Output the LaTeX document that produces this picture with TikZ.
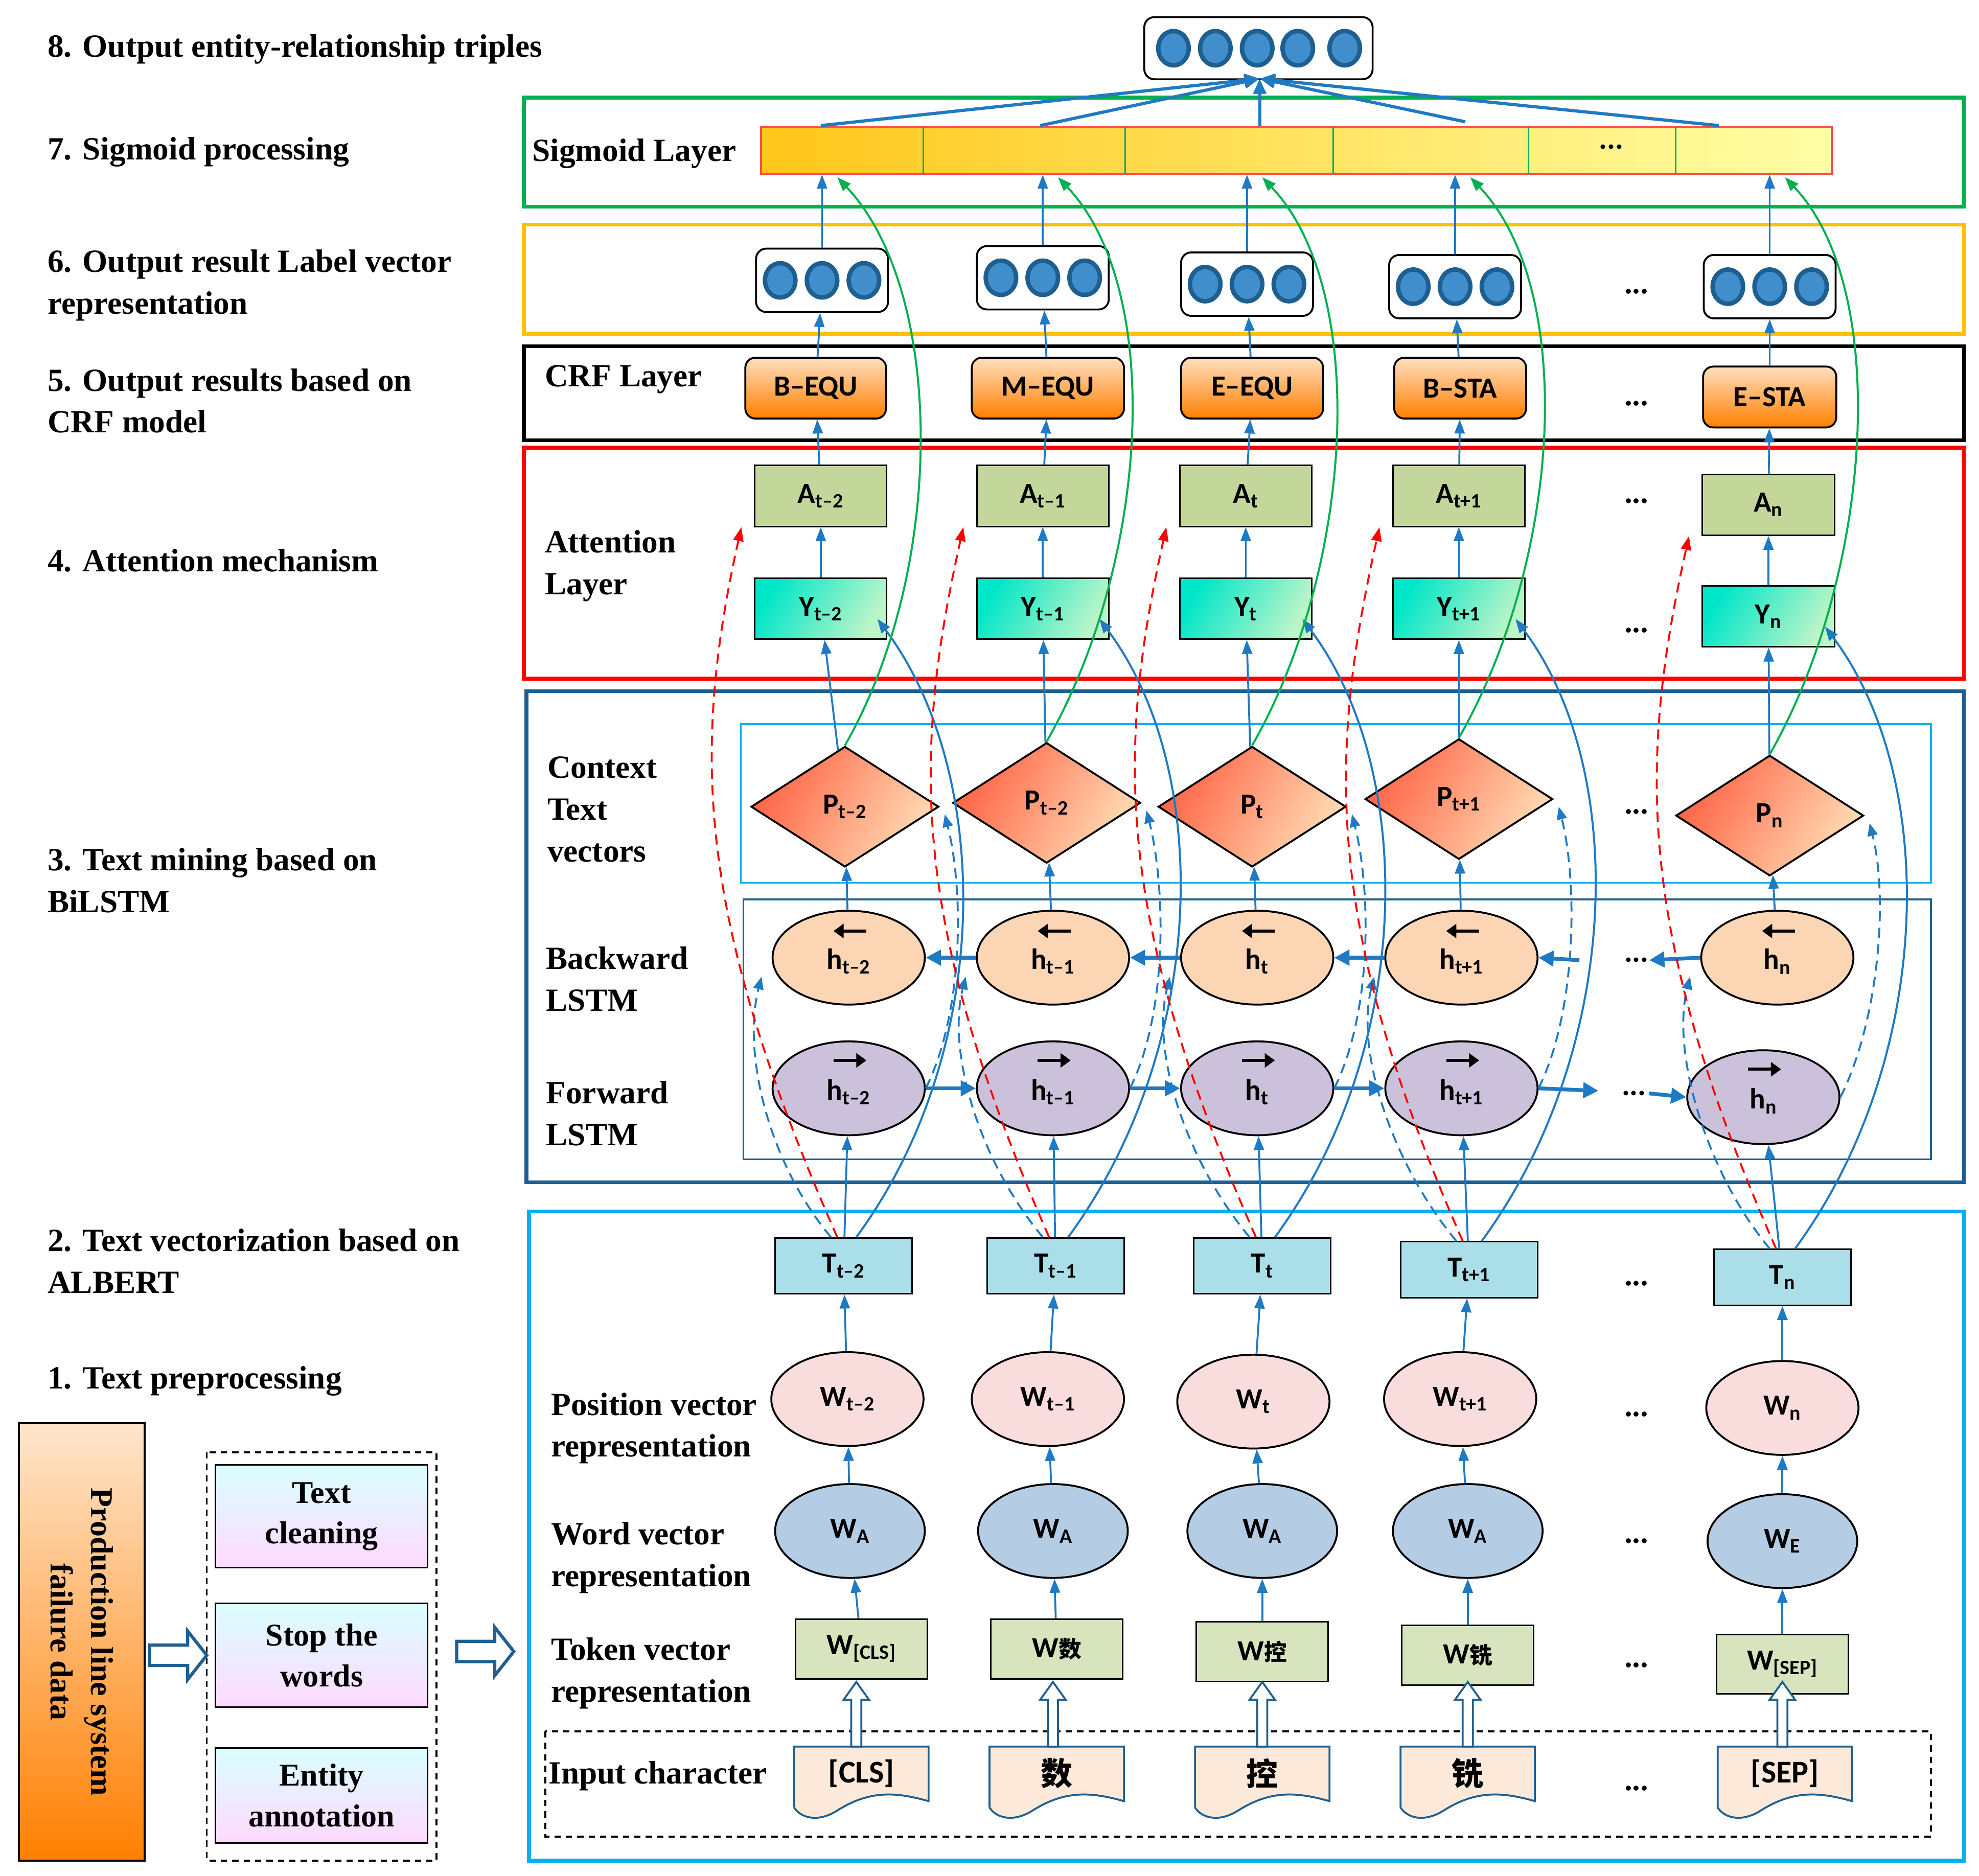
\documentclass[tikz,border=0pt]{standalone}
\usepackage{fontspec}
\setmainfont{Liberation Serif}
\newfontfamily\nf{Carlito}
\newfontfamily\cjk{Noto Sans CJK SC}
\usetikzlibrary{shapes.geometric,arrows.meta,calc}
\definecolor{ablue}{HTML}{1F7AC3}
\definecolor{dblue}{HTML}{1F5F8F}
\definecolor{lblue}{HTML}{00B0F0}
\definecolor{lgreen}{HTML}{00B050}
\definecolor{lyel}{HTML}{FFC000}
\definecolor{cA}{RGB}{196,215,155}
\definecolor{cY1}{RGB}{0,230,200}
\definecolor{cY2}{RGB}{190,245,200}
\definecolor{cP1}{RGB}{255,100,70}
\definecolor{cP2}{RGB}{255,220,180}
\definecolor{cB}{RGB}{252,213,181}
\definecolor{cF}{RGB}{204,193,218}
\definecolor{cT}{RGB}{170,222,232}
\definecolor{cW}{RGB}{249,220,220}
\definecolor{cE}{RGB}{180,204,228}
\definecolor{cK}{RGB}{215,228,189}
\definecolor{cI}{RGB}{253,233,217}
\newcommand\hup[3]{\draw[draw=dblue,line width=1.5pt,fill=white] (#1-4,#2) -- (#1-4,#3+14) -- (#1-10,#3+14) -- (#1,#3) -- (#1+10,#3+14) -- (#1+4,#3+14) -- (#1+4,#2) -- cycle;}
\newcommand\hright[3]{\draw[draw=dblue,line width=2.5pt,fill=white] (#1,#3-8) -- (#2-15,#3-8) -- (#2-15,#3-19) -- (#2,#3) -- (#2-15,#3+19) -- (#2-15,#3+8) -- (#1,#3+8) -- cycle;}
\begin{document}
\begin{tikzpicture}[x=1pt,y=-1pt,
 lab/.style={anchor=west,align=left,font=\fontsize{25.5}{33}\selectfont\bfseries},
 nd/.style={font=\nf\fontsize{23}{24}\selectfont\bfseries,inner sep=1pt},
 arr/.style={draw=ablue,line width=1.5pt,-{Triangle[length=11pt,width=8pt]}},
 harr/.style={draw=ablue,line width=3pt,-{Triangle[length=12pt,width=12pt]}},
 bdash/.style={draw=ablue,line width=1.5pt,dash pattern=on 8pt off 5pt,-{Triangle[length=10pt,width=8pt]}},
 rdash/.style={draw=red,line width=1.5pt,dash pattern=on 8pt off 5pt,-{Triangle[length=11pt,width=8pt]}},
 bcur/.style={draw=ablue,line width=1.6pt,-{Triangle[length=11pt,width=8pt]}},
 gcur/.style={draw=lgreen,line width=1.6pt,-{Triangle[length=11pt,width=8pt]}},
 ell/.style={ellipse,draw=black,line width=1.5pt,minimum width=120pt,minimum height=74pt,inner sep=0pt},
 sq/.style={rectangle,draw=black,line width=1.2pt,minimum width=104pt,minimum height=48pt,inner sep=0pt},
 vecbox/.style={rectangle,rounded corners=8pt,draw=black,line width=1.5pt,fill=white,minimum width=104pt,minimum height=50pt},
 dot/.style={ellipse,draw=dblue,line width=3.5pt,fill=ablue!85,minimum width=24pt,minimum height=27pt,inner sep=0pt},
 dts/.style={font=\nf\fontsize{24}{24}\selectfont\bfseries}
]
\useasboundingbox (0,0) rectangle (1560,1479);
% layer frames
\draw[lgreen,line width=3pt] (413,77) rectangle (1548,163);
\draw[lyel,line width=3pt] (413,177) rectangle (1548,263);
\draw[black,line width=3pt] (413,273) rectangle (1548,347);
\draw[red,line width=3pt] (413,353) rectangle (1548,535);
\draw[dblue,line width=3pt] (415,545) rectangle (1548,932);
\draw[lblue,line width=1.5pt] (584,571) rectangle (1522,696);
\draw[dblue,line width=1.5pt] (586,709) rectangle (1522,914);
\draw[lblue,line width=3pt] (417,955) rectangle (1548,1467);
\draw[black,line width=1.5pt,dash pattern=on 5pt off 4pt] (430,1365) rectangle (1522,1448);
% left labels
\node[lab] at (34,39) {8. Output entity-relationship triples};
\node[lab] at (34,120) {7. Sigmoid processing};
\node[lab] at (34,225) {6. Output result Label vector\\representation};
\node[lab] at (34,316) {5. Output results based on\\CRF model};
\node[lab] at (34,442) {4. Attention mechanism};
\node[lab] at (34,694) {3. Text mining based on\\BiLSTM};
\node[lab] at (34,994) {2. Text vectorization based on\\ALBERT};
\node[lab] at (34,1089) {1. Text preprocessing};
\node[lab] at (416,121) {Sigmoid Layer};
\node[lab] at (426,299) {CRF Layer};
\node[lab] at (426,446) {Attention\\Layer};
\node[lab] at (428,638) {Context\\Text\\vectors};
\node[lab] at (427,772) {Backward\\LSTM};
\node[lab] at (427,878) {Forward\\LSTM};
\node[lab] at (431,1126) {Position vector\\representation};
\node[lab] at (431,1228) {Word vector\\representation};
\node[lab] at (431,1319) {Token vector\\representation};
\node[lab] at (429,1400) {Input character};
% preprocessing
\node[rectangle,draw=black,line width=1.5pt,top color=orange!20,bottom color=orange,minimum width=99pt,minimum height=345pt,inner sep=0] (src) at (64.5,1294.5) {};
\node[rotate=-90,align=center,font=\fontsize{25}{32}\selectfont\bfseries] at (src) {Production line system\\failure data};
\draw[black,line width=1.5pt,dash pattern=on 5pt off 4pt] (163,1145) rectangle (344,1467);
\foreach \n/\y/\h/\t in {p1/1195.5/81/{Text\\cleaning},p2/1305/82/{Stop the\\words},p3/1415.5/75/{Entity\\annotation}}
  \node[rectangle,draw=black,line width=1.2pt,top color=cyan!15,middle color=orange!12,bottom color=magenta!15,minimum width=167pt,minimum height=\h pt,align=center,font=\fontsize{25}{32}\selectfont\bfseries] (\n) at (253.5,\y) {\t};
\hright{118}{163}{1305}
\hright{360}{405}{1302}
% output triple box
\node[rectangle,rounded corners=8pt,draw=black,line width=1.5pt,minimum width=180pt,minimum height=49pt] (out) at (992,38) {};
\foreach \x in {925,958,991,1023,1060} \node[dot] at (\x,38) {};
% sigmoid bar
\node[rectangle,draw=red!70,line width=1.5pt,left color=lyel!90,right color=yellow!35,minimum width=844pt,minimum height=37pt,inner sep=0] (sig) at (1022,118.5) {};
\foreach \x in {728,887,1051,1205,1321} \draw[lgreen,line width=1.2pt] (\x,100) -- (\x,137);
\node[dts] at (1270,116) {...};
\coordinate (tp) at (993,62);
\foreach \x/\y in {647/99,820/99,993/99,1155/96,1355/99} \draw[draw=ablue,line width=2.5pt,-{Triangle[length=12pt,width=10pt]}] (\x,\y) -- (tp);
% label vector boxes
\foreach \i/\x/\y in {1/648/221,2/822/219,3/983/224,4/1147/226,5/1395/226}{
  \node[vecbox] (L\i) at (\x,\y) {};
  \foreach \d in {-33,0,33} \node[dot] at (\x+\d,\y) {};
}
% CRF
\foreach \i/\x/\y/\w/\t in {1/643/306/111/B–EQU,2/826/306/120/M–EQU,3/987/306/112/E–EQU,4/1151/306/104/B–STA,5/1395/313/105/E–STA}
  \node[nd,rectangle,rounded corners=8pt,draw=black,line width=1.5pt,top color=orange!25,bottom color=orange,minimum width=\w pt,minimum height=48pt] (C\i) at (\x,\y) {\t};
% A and Y
\foreach \i/\x/\y/\s in {1/647/391/t–2,2/822/391/t–1,3/982/391/t,4/1150/391/t+1,5/1394/398/n}
  \node[nd,sq,fill=cA] (A\i) at (\x,\y) {A\textsubscript{\s}};
\foreach \i/\x/\y/\s in {1/647/480/t–2,2/822/480/t–1,3/982/480/t,4/1150/480/t+1,5/1394/486/n}
  \node[nd,sq,left color=cY1,right color=cY2,shading angle=60] (Y\i) at (\x,\y) {Y\textsubscript{\s}};
% P diamonds
\foreach \i/\x/\y/\s in {1/666/636/t–2,2/825/633/t–2,3/987/636/t,4/1150/630/t+1,5/1395/643/n}
  \node[nd,diamond,draw=black,line width=1.5pt,minimum width=148pt,minimum height=95pt,inner sep=0,left color=cP1,right color=cP2,shading angle=60] (P\i) at (\x,\y) {P\textsubscript{\s}};
% LSTM
\foreach \i/\x/\y/\s in {1/669/755/t–2,2/830/755/t–1,3/991/755/t,4/1152/755/t+1,5/1401/755/n}{
  \node[ell,fill=cB] (B\i) at (\x,\y) {};
  \node[nd] at (\x,\y+3) {h\textsubscript{\s}};
  \draw[black,line width=2.5pt,-{Triangle[length=8pt,width=11pt]}] (\x+14,\y-21) -- (\x-12,\y-21);
}
\foreach \i/\x/\y/\s in {1/669/858/t–2,2/830/858/t–1,3/991/858/t,4/1152/858/t+1,5/1390/865/n}{
  \node[ell,fill=cF] (F\i) at (\x,\y) {};
  \node[nd] at (\x,\y+3) {h\textsubscript{\s}};
  \draw[black,line width=2.5pt,-{Triangle[length=8pt,width=11pt]}] (\x-12,\y-22) -- (\x+14,\y-22);
}
% T, position, word, token
\foreach \i/\x/\y/\s in {1/665/998/t–2,2/832/998/t–1,3/995/998/t,4/1158/1001/t+1,5/1405/1007/n}
  \node[nd,sq,minimum width=108pt,minimum height=44pt,fill=cT] (T\i) at (\x,\y) {T\textsubscript{\s}};
\foreach \i/\x/\y/\s in {1/668/1103/t–2,2/826/1103/t–1,3/988/1105/t,4/1151/1103/t+1,5/1405/1110/n}
  \node[nd,ell,fill=cW] (W\i) at (\x,\y) {W\textsubscript{\s}};
\foreach \i/\x/\y/\s in {1/670/1207/A,2/830/1207/A,3/995/1207/A,4/1157/1207/A,5/1405/1215/E}
  \node[nd,ell,minimum width=118pt,fill=cE] (E\i) at (\x,\y) {W\textsubscript{\s}};
\foreach \i/\x/\y/\s in {1/679/1300/{\textsubscript{[CLS]}},2/833/1300/{\cjk\fontsize{18}{18}\selectfont 数},3/995/1302/{\cjk\fontsize{18}{18}\selectfont 控},4/1157/1305/{\cjk\fontsize{18}{18}\selectfont 铣},5/1405/1312/{\textsubscript{[SEP]}}}
  \node[nd,sq,minimum height=47pt,fill=cK] (K\i) at (\x,\y) {W\s};
% input characters
\foreach \i/\x/\t in {1/679/[CLS],2/833/{\cjk 数},3/995/{\cjk 控},4/1157/{\cjk 铣},5/1407/[SEP]}{
  \fill[cI] (\x-53,1377) -- (\x+53,1377) -- (\x+53,1420) .. controls (\x+25,1412) and (\x+5,1412) .. (\x-20,1428) .. controls (\x-35,1437) and (\x-48,1433) .. (\x-53,1425) -- cycle;
  \draw[dblue,line width=1.5pt] (\x-53,1425) -- (\x-53,1377) -- (\x+53,1377) -- (\x+53,1420) .. controls (\x+25,1412) and (\x+5,1412) .. (\x-20,1428) .. controls (\x-35,1437) and (\x-48,1433) .. (\x-53,1425);
  \node[nd,font=\nf\fontsize{25}{26}\selectfont\bfseries] (I\i) at (\x,1398) {\t};
}
\foreach \x in {675,830,995,1157,1405} \hup{\x}{1377}{1326}
% dots
\foreach \y in {230,318,395,497,640,1012,1115,1215,1313,1410} \node[dts] at (1290,\y) {...};
\node[dts] at (1290,757) {...};
\node[dts] at (1288,862) {...};
% vertical arrows
\foreach \i in {1,...,5}{
  \draw[arr] (K\i) -- (E\i);
  \draw[arr] (E\i) -- (W\i);
  \draw[arr] (W\i) -- (T\i);
  \draw[arr] (T\i) -- (F\i);
  \draw[arr] (B\i) -- (P\i);
  \draw[arr] (P\i) -- (Y\i);
  \draw[arr] (Y\i) -- (A\i);
  \draw[arr] (A\i) -- (C\i);
  \draw[arr] (C\i) -- (L\i);
  \draw[arr] (L\i.north) -- (L\i.north |- sig.south);
}
% horizontal LSTM arrows
\foreach \a/\b in {2/1,3/2,4/3} \draw[harr] (B\a.west) -- (B\b.east);
\foreach \a/\b in {1/2,2/3,3/4} \draw[harr] (F\a.east) -- (F\b.west);
\coordinate (gb1) at (1245,757); \coordinate (gb2) at (1300,757);
\coordinate (gf1) at (1260,860); \coordinate (gf2) at (1300,862);
\draw[harr] (B5.west) -- (gb2);
\draw[harr] (gb1) -- (B4.east);
\draw[harr] (F4.east) -- (gf1);
\draw[harr] (gf2) -- (F5.west);
% curves
\foreach \i in {1,...,5}{
  \draw[bdash] ($(T\i.north)+(-10,0)$) .. controls +(-50,-60) and +(-15,60) .. ($(B\i.west)+(-8,15)$);
  \draw[bdash] (F\i.east) .. controls +(30,-60) and +(15,60) .. ($(P\i.east)+(4,6)$);
  \draw[rdash] ($(T\i.north)+(-5,0)$) .. controls +(-110,-250) and +(-40,180) .. ($(A\i.south west)+(-10,0)$);
  \draw[bcur] ($(T\i.north)+(10,0)$) .. controls +(110,-150) and +(90,120) .. ($(Y\i.east)+(-8,8)$);
  \draw[gcur] (P\i.north) .. controls +(80,-140) and +(85,90) .. ($(L\i.north |- sig.south)+(12,2)$);
}
\end{tikzpicture}
\end{document}
